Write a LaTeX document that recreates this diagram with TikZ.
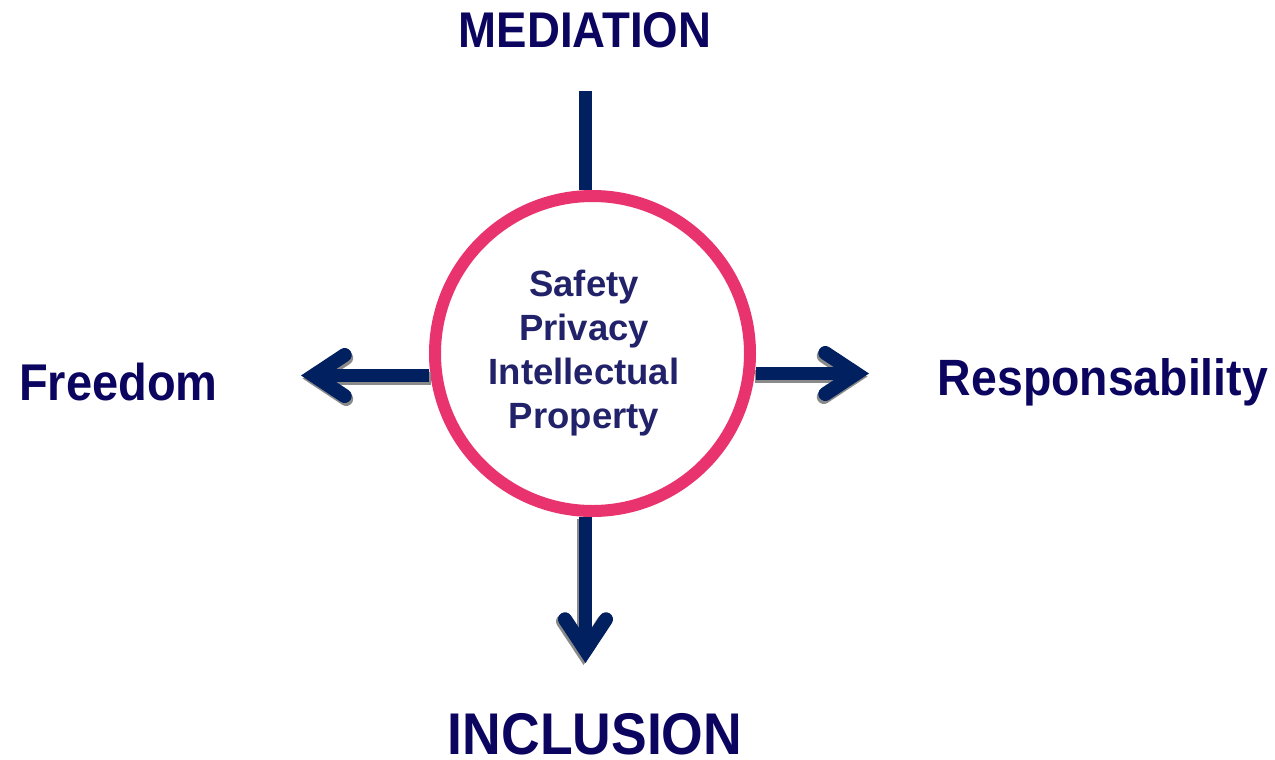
\documentclass[tikz,border=0pt]{standalone}
\usepackage{fontspec}
\setmainfont{Liberation Sans}
\usetikzlibrary{arrows.meta}
\definecolor{navy}{HTML}{002060}
\definecolor{lblcol}{HTML}{0B0560}
\definecolor{txtcol}{HTML}{22226A}
\definecolor{ringcol}{HTML}{E8336E}
\definecolor{shadowcol}{HTML}{8A8A8A}
\tikzset{
  lbl/.style={font=\bfseries\fontsize{#1}{#1}\selectfont, text=lblcol, inner sep=0pt, anchor=base},
  conn/.style={draw=navy, line width=12.5pt, line cap=butt},
  headtip/.style={-{Straight Barb[length=31pt, width=41pt, line width=14pt, line cap=round, line join=miter]}},
  arr/.style={conn, headtip},
  shad/.style={draw=shadowcol, line width=12.5pt, line cap=butt, headtip},
}
\begin{document}
\begin{tikzpicture}[x=1pt,y=-1pt]
\useasboundingbox (0,0) rectangle (1275,760);
% labels
\node[lbl=45.6] (med) at (585,48) {\scalebox{1}[1.1]{MEDIATION}};
\node[lbl=53.5] (inc) at (595,754) {\scalebox{1}[1.1]{INCLUSION}};
\node[lbl=47] (free) at (118.5,400) {\scalebox{1}[1.1]{Freedom}};
\node[lbl=46.4] (resp) at (1103,395) {\scalebox{1}[1.1]{Responsability}};
% circle
\node[circle, draw=ringcol, line width=12pt, fill=white, minimum size=315pt, inner sep=0pt] (c) at (592.5,353.5) {};
% connector ends
\coordinate (mtop) at (585.5,91);
\coordinate (btip) at (585.5,663);
\coordinate (ltip) at (301,375.5);
\coordinate (rtip) at (869,373.5);
% shadows
\begin{scope}[transform canvas={shift={(1.5pt,-3pt)}}]
  \draw[shad] (c.west |- ltip) -- (ltip);
\end{scope}
\begin{scope}[transform canvas={shift={(-1.5pt,-3pt)}}]
  \draw[shad] (c.east |- rtip) -- (rtip);
\end{scope}
\begin{scope}[transform canvas={shift={(-2pt,-2pt)}}]
  \draw[shad] (c.south -| btip) -- (btip);
\end{scope}
% connectors
\draw[conn] (mtop) -- (c.north -| mtop);
\draw[arr] (c.south -| btip) -- (btip);
\draw[arr] (c.west |- ltip) -- (ltip);
\draw[arr] (c.east |- rtip) -- (rtip);
% circle text
\node[font=\bfseries\fontsize{36.5}{44}\selectfont, text=txtcol, align=center, inner sep=0pt] (t) at (584,353) {Safety\\Privacy\\Intellectual\\Property};
\end{tikzpicture}
\end{document}
